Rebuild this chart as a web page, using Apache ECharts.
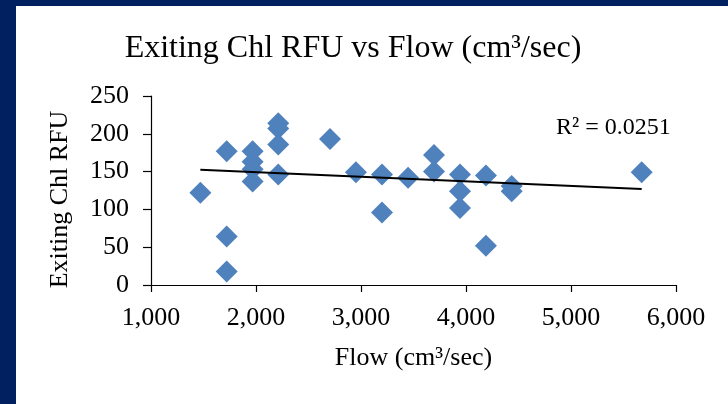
<!DOCTYPE html>
<html>
<head>
<meta charset="utf-8">
<script src="https://cdn.jsdelivr.net/npm/echarts@6/dist/echarts.min.js"></script>
<style>
  html, body { margin: 0; padding: 0; width: 728px; height: 404px; background: #002060; overflow: hidden; }
  #chart { position: absolute; left: 16px; top: 6px; width: 712px; height: 398px; background: #ffffff; }
</style>
</head>
<body>
<div id="chart"></div>
<script>
// Flow rate (cm3/sec) for each sample
const flow = [
  1470,
  1721, 1721, 1721,
  1968, 1968, 1968, 1968,
  2212, 2212, 2212, 2212,
  2705,
  2952,
  3200, 3200,
  3448,
  3695, 3695,
  3943, 3943, 3943,
  4190, 4190,
  4435, 4435,
  5673
];
// Exiting chlorophyll RFU for each sample
const chlRFU = [
  122,
  177, 64, 18,
  177, 163, 153, 137,
  214, 207, 186, 146,
  193,
  149,
  146, 96,
  142,
  172, 150,
  146, 124, 102,
  145, 52,
  131, 124,
  149
];
// Linear trend line fitted to the samples
const trendSlope = -0.00607;
const trendIntercept = 161.4;
const rSquared = '0.0251';

const xTicks = [1000, 2000, 3000, 4000, 5000, 6000];
const yTicks = [0, 50, 100, 150, 200, 250];

const points = flow.map((f, i) => [f, chlRFU[i]]);
const xMin = Math.min(...flow), xMax = Math.max(...flow);
const trend = [xMin, xMax].map(x => [x, trendIntercept + trendSlope * x]);

const serif = '"Liberation Serif", "Times New Roman", serif';
const chart = echarts.init(document.getElementById('chart'));
chart.setOption({
  animation: false,
  textStyle: { fontFamily: serif, color: '#000' },
  title: {
    text: 'Exiting Chl RFU vs Flow (cm³/sec)',
    left: 332,
    top: 22,
    textAlign: 'center',
    textStyle: { fontFamily: serif, fontSize: 32, fontWeight: 'normal', color: '#000' }
  },
  grid: { left: 135, right: 52, top: 90, bottom: 119 },
  xAxis: {
    type: 'value',
    min: xTicks[0], max: xTicks[xTicks.length - 1], interval: 1000,
    name: 'Flow (cm³/sec)',
    nameLocation: 'middle',
    nameGap: 60,
    nameTextStyle: { fontFamily: serif, fontSize: 26, color: '#000' },
    axisLine: { lineStyle: { color: '#000', width: 1.2 } },
    axisTick: { show: true, inside: false, length: 7, lineStyle: { color: '#000', width: 1.2 } },
    axisLabel: {
      margin: 20, fontFamily: serif, fontSize: 26, color: '#000',
      formatter: v => v.toLocaleString('en-US')
    },
    splitLine: { show: false }
  },
  yAxis: {
    type: 'value',
    min: yTicks[0], max: yTicks[yTicks.length - 1], interval: 50,
    name: 'Exiting Chl RFU',
    nameLocation: 'middle',
    nameGap: 78,
    nameRotate: 90,
    nameTextStyle: { fontFamily: serif, fontSize: 26, color: '#000', padding: [0, 18, 0, 0] },
    axisLine: { show: true, lineStyle: { color: '#000', width: 1.2 } },
    axisTick: { show: true, inside: false, length: 8, lineStyle: { color: '#000', width: 1.2 } },
    axisLabel: { margin: 22, fontFamily: serif, fontSize: 26, color: '#000' },
    splitLine: { show: false }
  },
  series: [
    {
      type: 'scatter',
      data: points,
      symbol: 'diamond',
      symbolSize: [22, 22],
      itemStyle: { color: '#4F81BD', opacity: 1 },
      z: 2
    },
    {
      type: 'line',
      data: trend,
      symbol: 'none',
      lineStyle: { color: '#000', width: 1.8 },
      z: 3
    }
  ],
  graphic: [
    {
      type: 'text',
      left: 540,
      top: 110,
      style: { text: 'R² = ' + rSquared, font: '24px ' + serif, fill: '#000' }
    }
  ]
});
</script>
</body>
</html>
